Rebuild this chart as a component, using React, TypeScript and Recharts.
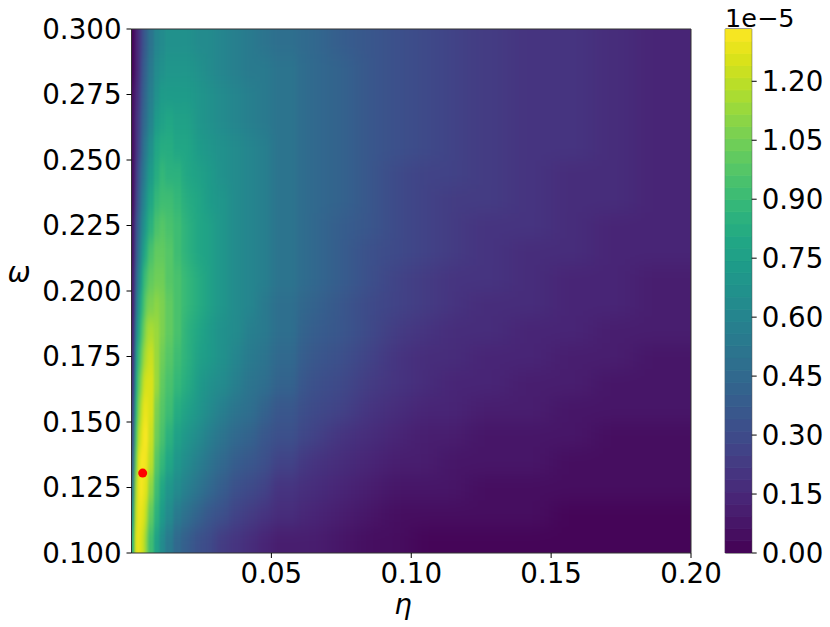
import React from "react";
import { ScatterChart, Scatter, BarChart, Bar, XAxis, YAxis, ReferenceArea } from "recharts";

// grid edges: eta columns (x) and omega rows (y)
const etaEdges = [
  0, 0.001, 0.002, 0.003, 0.004, 0.005, 0.006, 0.008, 0.01, 0.012, 0.015, 0.018, 0.022, 0.026, 0.03,
  0.035, 0.04, 0.045, 0.05, 0.06, 0.07, 0.08, 0.09, 0.1, 0.11, 0.12, 0.135, 0.15, 0.165, 0.18, 0.2,
];
const omegaEdges = [
  0.1, 0.11, 0.12, 0.13, 0.14, 0.15, 0.16, 0.17, 0.18, 0.19, 0.2, 0.21, 0.22, 0.23, 0.24, 0.25, 0.26,
  0.27, 0.28, 0.29, 0.3,
];

// values (x1e-5), one row per omega band
const w105 = [0.85, 1.24, 1.28, 1.25, 1.18, 1.08, 0.92, 0.75, 0.64, 0.55, 0.46, 0.4, 0.34, 0.29, 0.245, 0.205, 0.175, 0.15, 0.12, 0.093, 0.072, 0.053, 0.035, 0.029, 0.025, 0.022, 0.019, 0.017, 0.016, 0.015];
const w115 = [0.7, 1.2, 1.3, 1.29, 1.25, 1.17, 1.02, 0.84, 0.72, 0.63, 0.55, 0.48, 0.42, 0.36, 0.31, 0.265, 0.23, 0.2, 0.165, 0.13, 0.103, 0.078, 0.057, 0.048, 0.042, 0.037, 0.032, 0.028, 0.026, 0.024];
const w125 = [0.55, 1.12, 1.28, 1.31, 1.3, 1.25, 1.11, 0.92, 0.8, 0.71, 0.63, 0.56, 0.5, 0.44, 0.38, 0.33, 0.29, 0.255, 0.215, 0.172, 0.14, 0.11, 0.084, 0.071, 0.062, 0.054, 0.046, 0.04, 0.036, 0.032];
const w135 = [0.42, 1.02, 1.24, 1.31, 1.32, 1.3, 1.18, 0.98, 0.87, 0.78, 0.7, 0.63, 0.57, 0.51, 0.45, 0.4, 0.355, 0.315, 0.27, 0.215, 0.178, 0.143, 0.11, 0.094, 0.083, 0.072, 0.062, 0.054, 0.048, 0.043];
const w145 = [0.33, 0.92, 1.17, 1.27, 1.31, 1.31, 1.23, 1.04, 0.93, 0.85, 0.77, 0.7, 0.63, 0.57, 0.51, 0.46, 0.415, 0.37, 0.32, 0.26, 0.216, 0.175, 0.137, 0.118, 0.104, 0.091, 0.079, 0.069, 0.061, 0.055];
const w155 = [0.26, 0.82, 1.08, 1.2, 1.28, 1.3, 1.25, 1.08, 0.98, 0.9, 0.83, 0.76, 0.69, 0.63, 0.57, 0.515, 0.47, 0.425, 0.37, 0.3, 0.252, 0.206, 0.163, 0.142, 0.126, 0.11, 0.096, 0.084, 0.075, 0.066];
const w165 = [0.21, 0.72, 0.98, 1.11, 1.22, 1.26, 1.24, 1.12, 1.02, 0.95, 0.88, 0.81, 0.74, 0.68, 0.62, 0.565, 0.515, 0.47, 0.41, 0.337, 0.286, 0.236, 0.187, 0.164, 0.146, 0.128, 0.113, 0.099, 0.088, 0.077];
const w175 = [0.17, 0.63, 0.87, 1.01, 1.14, 1.2, 1.21, 1.13, 1.05, 0.98, 0.91, 0.84, 0.77, 0.715, 0.655, 0.6, 0.55, 0.505, 0.445, 0.37, 0.317, 0.263, 0.21, 0.185, 0.166, 0.146, 0.129, 0.114, 0.101, 0.09];
const w185 = [0.14, 0.54, 0.76, 0.91, 1.05, 1.12, 1.15, 1.12, 1.06, 1.0, 0.93, 0.86, 0.795, 0.74, 0.68, 0.625, 0.58, 0.535, 0.47, 0.398, 0.343, 0.287, 0.232, 0.205, 0.184, 0.163, 0.145, 0.128, 0.114, 0.101];
const w195 = [0.115, 0.46, 0.66, 0.82, 0.96, 1.04, 1.08, 1.09, 1.06, 1.0, 0.94, 0.87, 0.81, 0.755, 0.695, 0.64, 0.595, 0.555, 0.49, 0.42, 0.365, 0.307, 0.252, 0.223, 0.201, 0.179, 0.159, 0.141, 0.126, 0.111];
const w205 = [0.095, 0.39, 0.57, 0.73, 0.87, 0.95, 1.0, 1.05, 1.04, 0.99, 0.935, 0.87, 0.81, 0.76, 0.7, 0.65, 0.605, 0.565, 0.505, 0.435, 0.382, 0.323, 0.268, 0.238, 0.216, 0.193, 0.172, 0.153, 0.137, 0.12];
const w215 = [0.08, 0.33, 0.49, 0.64, 0.77, 0.86, 0.93, 1.0, 1.01, 0.97, 0.92, 0.86, 0.805, 0.755, 0.7, 0.65, 0.61, 0.575, 0.515, 0.446, 0.394, 0.336, 0.282, 0.251, 0.228, 0.205, 0.183, 0.163, 0.146, 0.128];
const w225 = [0.068, 0.28, 0.42, 0.56, 0.68, 0.77, 0.85, 0.95, 0.97, 0.94, 0.9, 0.845, 0.79, 0.745, 0.695, 0.645, 0.61, 0.575, 0.52, 0.453, 0.402, 0.345, 0.293, 0.262, 0.238, 0.215, 0.192, 0.171, 0.153, 0.134];
const w235 = [0.058, 0.24, 0.36, 0.5, 0.61, 0.69, 0.78, 0.89, 0.92, 0.9, 0.87, 0.825, 0.775, 0.73, 0.685, 0.64, 0.605, 0.575, 0.52, 0.457, 0.407, 0.352, 0.302, 0.27, 0.246, 0.223, 0.2, 0.177, 0.159, 0.139];
const w245 = [0.05, 0.21, 0.31, 0.44, 0.55, 0.63, 0.72, 0.83, 0.87, 0.86, 0.84, 0.8, 0.755, 0.715, 0.67, 0.63, 0.6, 0.57, 0.52, 0.459, 0.41, 0.357, 0.309, 0.277, 0.253, 0.229, 0.205, 0.182, 0.163, 0.143];
const w255 = [0.044, 0.18, 0.27, 0.39, 0.5, 0.57, 0.66, 0.78, 0.82, 0.82, 0.805, 0.775, 0.735, 0.7, 0.655, 0.62, 0.59, 0.565, 0.515, 0.459, 0.411, 0.36, 0.314, 0.282, 0.258, 0.234, 0.209, 0.186, 0.166, 0.146];
const w265 = [0.038, 0.155, 0.24, 0.35, 0.455, 0.52, 0.61, 0.73, 0.77, 0.78, 0.77, 0.75, 0.71, 0.68, 0.64, 0.605, 0.58, 0.555, 0.51, 0.457, 0.41, 0.361, 0.318, 0.286, 0.261, 0.237, 0.212, 0.188, 0.168, 0.148];
const w275 = [0.033, 0.135, 0.21, 0.31, 0.415, 0.48, 0.57, 0.68, 0.72, 0.74, 0.74, 0.72, 0.69, 0.66, 0.625, 0.59, 0.565, 0.545, 0.505, 0.454, 0.408, 0.362, 0.32, 0.288, 0.263, 0.239, 0.214, 0.19, 0.169, 0.149];
const w285 = [0.029, 0.115, 0.185, 0.28, 0.38, 0.45, 0.53, 0.63, 0.67, 0.7, 0.705, 0.695, 0.67, 0.645, 0.61, 0.58, 0.555, 0.535, 0.5, 0.45, 0.405, 0.361, 0.321, 0.29, 0.265, 0.24, 0.215, 0.19, 0.17, 0.15];
const w295 = [0.025, 0.095, 0.16, 0.25, 0.345, 0.42, 0.5, 0.59, 0.625, 0.655, 0.67, 0.665, 0.65, 0.63, 0.6, 0.57, 0.545, 0.525, 0.49, 0.445, 0.4, 0.36, 0.32, 0.29, 0.265, 0.24, 0.215, 0.19, 0.17, 0.15];

const zRows = [w105, w115, w125, w135, w145, w155, w165, w175, w185, w195, w205, w215, w225, w235, w245, w255, w265, w275, w285, w295];

// highlighted optimum
const optimum = [{ eta: 0.004, omega: 0.1305 }];

const etaTicks = [0.05, 0.1, 0.15, 0.2];
const omegaTicks = [0.1, 0.125, 0.15, 0.175, 0.2, 0.225, 0.25, 0.275, 0.3];
const cbarTicks = [0, 0.15, 0.3, 0.45, 0.6, 0.75, 0.9, 1.05, 1.2];

// contour levels
const levelStep = 0.031;
const levelCount = 43;
const vmax = levelStep * levelCount;

const viridisStops = [
  "#440154", "#471365", "#482475", "#463480", "#414487", "#3b528b", "#355f8d", "#2f6c8e", "#2a788e",
  "#25848e", "#21918c", "#1e9c89", "#22a884", "#2fb47c", "#44bf70", "#5ec962", "#7ad151", "#9bd93c",
  "#bddf26", "#dfe318", "#fde725",
];

function viridis(t: number) {
  const v = Math.max(0, Math.min(1, t)) * (viridisStops.length - 1);
  const i = Math.min(viridisStops.length - 2, Math.floor(v));
  const f = v - i;
  const a = viridisStops[i], b = viridisStops[i + 1];
  const ch = (s: string, k: number) => parseInt(s.slice(1 + 2 * k, 3 + 2 * k), 16);
  const c = [0, 1, 2].map((k) => Math.round(ch(a, k) + (ch(b, k) - ch(a, k)) * f));
  return `rgb(${c[0]},${c[1]},${c[2]})`;
}

function bandColor(z: number) {
  const k = Math.max(0, Math.min(levelCount - 1, Math.floor(z / levelStep)));
  return viridis((k + 0.5) / levelCount);
}

const nRows = zRows.length;
const nCols = etaEdges.length - 1;

const cells = zRows.flatMap((row, i) =>
  row.map((z, j) => ({
    x1: etaEdges[j],
    x2: etaEdges[j + 1],
    y1: omegaEdges[i],
    y2: omegaEdges[i + 1],
    fill: bandColor(z),
    left: j === 0,
    right: j === nCols - 1,
    bottom: i === 0,
    top: i === nRows - 1,
  }))
);

// colour bar: one stacked segment per contour band
const cbarRow: Record<string, number | string> = { name: "cbar" };
for (let k = 0; k < levelCount; k++) cbarRow[`b${k}`] = levelStep;
const cbarData = [cbarRow];

const font = "DejaVu Sans, sans-serif";
const tickStyle = { fill: "#000", fontSize: 27.7, fontFamily: font };
const pad = 40;

// edge cells are drawn a little past the frame so the smoothing filter has no soft border
const cellShape = (c: (typeof cells)[number]) => (p: any) => {
  let x = p.x, y = p.y, w = p.width + 0.7, h = p.height + 0.7;
  if (c.left) { x -= pad; w += pad; }
  if (c.right) w += pad;
  if (c.top) { y -= pad; h += pad; }
  if (c.bottom) h += pad;
  return <rect x={x} y={y} width={w} height={h} fill={c.fill} />;
};

const plotMargin = { top: 29, right: 139, bottom: 74, left: 131.5 };

// the narrow columns near eta=0 get little horizontal smoothing, the wide ones more
const zones = [
  { id: "smoothA", blur: "1.2 8", from: 131.5, to: 182 },
  { id: "smoothB", blur: "4 9", from: 182, to: 300 },
  { id: "smoothC", blur: "12 9", from: 300, to: 691 },
];

function HeatLayer({ id, from, to }: { id: string; from: number; to: number }) {
  return (
    <div
      style={{
        position: "absolute",
        left: 0,
        top: 0,
        width: 830,
        height: 627,
        filter: `url(#${id})`,
        clipPath: `inset(${plotMargin.top}px ${830 - to}px ${plotMargin.bottom}px ${from}px)`,
      }}
    >
      <ScatterChart width={830} height={627} margin={plotMargin}>
        <XAxis type="number" dataKey="eta" domain={[0, 0.2]} hide allowDataOverflow />
        <YAxis type="number" dataKey="omega" domain={[0.1, 0.3]} hide allowDataOverflow />
        {cells.map((c, i) => (
          <ReferenceArea key={i} x1={c.x1} x2={c.x2} y1={c.y1} y2={c.y2} fill={c.fill} ifOverflow="visible" shape={cellShape(c)} />
        ))}
      </ScatterChart>
    </div>
  );
}

export default function App() {
  return (
    <div style={{ position: "absolute", left: 0, top: 0, width: 830, height: 627, background: "#fff" }}>
      <svg width={0} height={0} style={{ position: "absolute" }}>
        <defs>
          {zones.map((z) => (
            <filter key={z.id} id={z.id} x="-10%" y="-10%" width="120%" height="120%" colorInterpolationFilters="sRGB">
              <feGaussianBlur stdDeviation={z.blur} />
            </filter>
          ))}
        </defs>
      </svg>

      {zones.map((z) => (
        <HeatLayer key={z.id} id={z.id} from={z.from} to={z.to} />
      ))}

      {/* axes, frame and optimum marker */}
      <ScatterChart
        width={830}
        height={627}
        margin={{ top: 29, right: 139, bottom: 14, left: 11.5 }}
        style={{ position: "absolute", left: 0, top: 0 }}
      >
        <XAxis
          type="number"
          dataKey="eta"
          domain={[0, 0.2]}
          ticks={etaTicks}
          tickFormatter={(v: number) => v.toFixed(2)}
          height={60}
          tickSize={5}
          tickMargin={5}
          axisLine={false}
          tickLine={{ stroke: "#000" }}
          tick={tickStyle}
          allowDataOverflow
          interval={0}
        />
        <YAxis
          type="number"
          dataKey="omega"
          domain={[0.1, 0.3]}
          ticks={omegaTicks}
          tickFormatter={(v: number) => v.toFixed(3)}
          width={120}
          tickSize={5}
          tickMargin={5}
          axisLine={false}
          tickLine={{ stroke: "#000" }}
          tick={tickStyle}
          allowDataOverflow
          interval={0}
        />
        <ReferenceArea x1={0} x2={0.2} y1={0.1} y2={0.3} fill="none" fillOpacity={0} stroke="#333" strokeWidth={1} />
        <Scatter
          data={optimum}
          isAnimationActive={false}
          shape={(p: any) => <circle cx={p.cx} cy={p.cy} r={4.5} fill="#ff0000" />}
        />
      </ScatterChart>

      {/* colour bar */}
      <BarChart
        width={830}
        height={627}
        data={cbarData}
        margin={{ top: 29, right: 8.3, bottom: 74, left: 725.3 }}
        barCategoryGap={0}
        barGap={0}
        style={{ position: "absolute", left: 0, top: 0 }}
      >
        <XAxis type="category" dataKey="name" hide />
        <YAxis
          type="number"
          orientation="right"
          domain={[0, vmax]}
          ticks={cbarTicks}
          tickFormatter={(v: number) => v.toFixed(2)}
          width={70}
          tickSize={5}
          tickMargin={5}
          axisLine={false}
          tickLine={{ stroke: "#000" }}
          tick={tickStyle}
          interval={0}
          allowDataOverflow
        />
        {Array.from({ length: levelCount }, (_, k) => {
          const col = viridis((k + 0.5) / levelCount);
          return (
            <Bar key={k} dataKey={`b${k}`} stackId="cb" fill={col} stroke={col} strokeWidth={0.8} isAnimationActive={false} />
          );
        })}
        <ReferenceArea y1={0} y2={vmax} fill="none" fillOpacity={0} stroke="#333" strokeWidth={1} />
      </BarChart>

      <svg width={830} height={627} style={{ position: "absolute", left: 0, top: 0, pointerEvents: "none" }}>
        <text x={19} y={282} textAnchor="middle" fontFamily={font} fontStyle="italic" fontSize={27.7} fill="#000">
          ω
        </text>
        <text x={403} y={614} textAnchor="middle" fontFamily={font} fontStyle="italic" fontSize={27.7} fill="#000">
          η
        </text>
        <text x={725} y={27} fontFamily={font} fontSize={25.5} fill="#000">
          1e−5
        </text>
      </svg>
    </div>
  );
}
